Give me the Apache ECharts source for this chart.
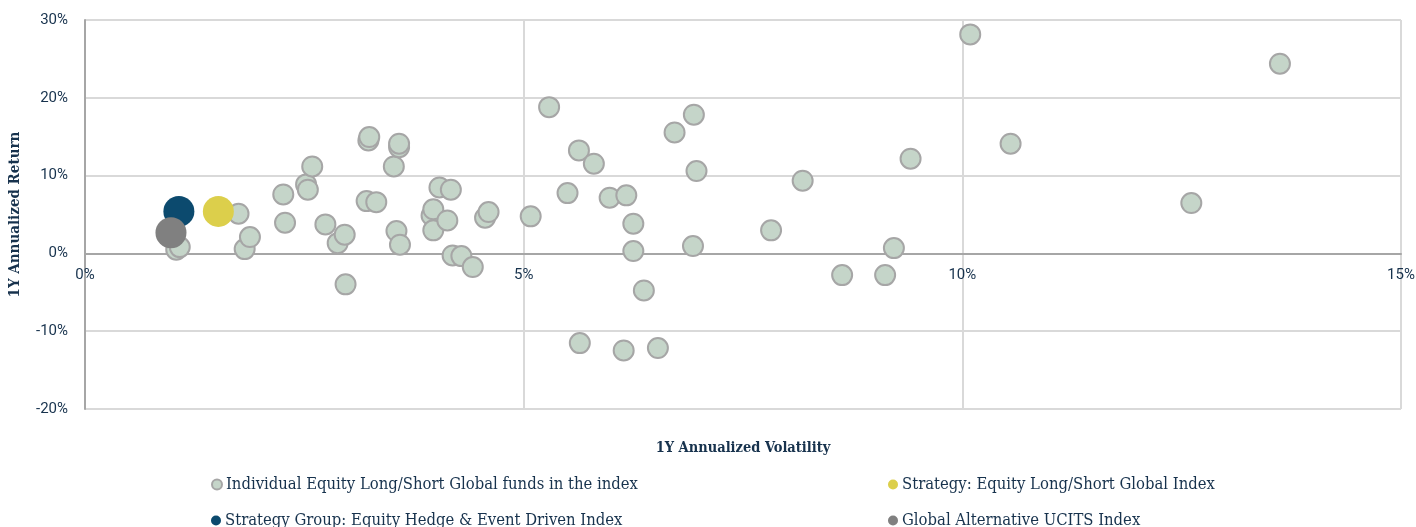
<!DOCTYPE html>
<html>
<head>
<meta charset="utf-8">
<style>
  html, body { margin: 0; padding: 0; background: #ffffff; }
  #chart { width: 1416px; height: 527px; }
</style>
<script src="https://cdn.jsdelivr.net/npm/echarts@6/dist/echarts.min.js"></script>
</head>
<body>
<div id="chart"></div>
<script>
// 1Y annualized volatility (%) of each fund in the index
const fundVolatility = [
  1.04, 1.08, 1.75, 1.82, 1.88, 2.26, 2.28, 2.52, 2.54, 2.59,
  2.74, 2.88, 2.96, 2.97, 3.21, 3.32, 3.23, 3.24, 3.52, 3.55,
  3.58, 3.58, 3.59, 3.95, 3.97, 3.97, 4.04, 4.13, 4.17, 4.19,
  4.29, 4.42, 4.56, 4.60, 5.08, 5.29, 5.50, 5.63, 5.64, 5.80,
  5.98, 6.14, 6.17, 6.25, 6.25, 6.37, 6.53, 6.72, 6.93, 6.94,
  6.97, 7.82, 8.18, 8.63, 9.12, 9.22, 9.41, 10.09, 10.55, 12.61,
  13.62
];
// 1Y annualized return (%) of each fund, same order
const fundReturn = [
  0.48, 0.81, 5.10, 0.55, 2.10, 7.58, 3.95, 8.87, 8.19, 11.18,
  3.73, 1.32, 2.40, -3.98, 6.72, 6.59, 14.52, 14.95, 11.18, 2.87,
  13.66, 14.10, 1.12, 4.88, 5.67, 2.96, 8.48, 4.24, 8.19, -0.26,
  -0.35, -1.76, 4.59, 5.31, 4.76, 18.80, 7.75, 13.24, -11.53, 11.53,
  7.16, -12.47, 7.46, 3.82, 0.30, -4.76, -12.17, 15.55, 0.94, 17.83,
  10.58, 2.96, 9.34, -2.79, -2.79, 0.68, 12.17, 28.15, 14.10, 6.47,
  24.38
];

// Index points: [volatility, return]
const strategyIndex = [1.52, 5.40];
const strategyGroupIndex = [1.07, 5.40];
const ucitsIndex = [0.98, 2.66];

const seriesNames = [
  'Individual Equity Long/Short Global funds in the index',
  'Strategy: Equity Long/Short Global Index',
  'Strategy Group: Equity Hedge & Event Driven Index',
  'Global Alternative UCITS Index'
];

const xTicks = { min: 0, max: 15, interval: 5 };
const yTicks = { min: -20, max: 30, interval: 10 };

const navy = '#17324d';
const slab = '"DejaVu Serif Condensed", "DejaVu Serif", serif';
const sans = 'Roboto, "Noto Sans", sans-serif';

const W = 1416, H = 527;
const grid = { left: 85, right: 15, top: 20, bottom: 118 };
const plotH = H - grid.top - grid.bottom;
// lift the horizontal axis (line + labels) from the bottom edge up to the zero return level
const zeroLift = plotH * (0 - yTicks.min) / (yTicks.max - yTicks.min);

const fundPoints = fundVolatility.map((v, i) => [v, fundReturn[i]]);

// one legend entry per block, laid out as two columns of two rows
function legendEntry(name, left, top) {
  return {
    orient: 'horizontal',
    left: left,
    top: top,
    itemWidth: 10,
    itemHeight: 10,
    itemGap: 0,
    icon: 'circle',
    selectedMode: false,
    textStyle: { color: navy, fontFamily: slab, fontSize: 16.5, padding: [0, 0, 0, -1] },
    data: [name]
  };
}

const chart = echarts.init(document.getElementById('chart'), null, { renderer: 'canvas' });

chart.setOption({
  animation: false,
  backgroundColor: '#ffffff',
  grid: Object.assign({ outerBoundsMode: 'none', containLabel: false }, grid),
  xAxis: {
    type: 'value',
    min: xTicks.min, max: xTicks.max, interval: xTicks.interval,
    offset: -zeroLift,
    axisLine: { show: true, onZero: false, lineStyle: { color: '#a6a6a6', width: 2 } },
    axisTick: { show: false },
    axisLabel: {
      formatter: v => v + '%', color: navy, fontFamily: sans, fontSize: 15, margin: 14
    },
    splitLine: { lineStyle: { color: '#d9d9d9', width: 2 } }
  },
  yAxis: {
    type: 'value',
    min: yTicks.min, max: yTicks.max, interval: yTicks.interval,
    name: '1Y Annualized Return',
    nameLocation: 'middle',
    nameGap: 62,
    nameTextStyle: { color: navy, fontFamily: slab, fontWeight: 'bold', fontSize: 15 },
    axisLine: { show: true, lineStyle: { color: '#a6a6a6', width: 2 } },
    axisTick: { show: false },
    axisLabel: {
      formatter: v => v + '%', color: navy, fontFamily: sans, fontSize: 15, margin: 17
    },
    splitLine: { lineStyle: { color: '#d9d9d9', width: 2 } }
  },
  graphic: [
    {
      type: 'text',
      x: grid.left + (W - grid.left - grid.right) / 2,
      y: 448,
      style: {
        text: '1Y Annualized Volatility',
        fill: navy,
        font: 'bold 14.5px ' + slab,
        align: 'center',
        verticalAlign: 'middle'
      }
    }
  ],
  legend: [
    legendEntry(seriesNames[0], 206, 471),
    legendEntry(seriesNames[1], 883, 471),
    legendEntry(seriesNames[2], 206, 507),
    legendEntry(seriesNames[3], 883, 507)
  ],
  series: [
    {
      name: seriesNames[0],
      type: 'scatter',
      symbolSize: 20,
      itemStyle: { color: '#c5d5c9', borderColor: '#a6a6a6', borderWidth: 2, opacity: 1 },
      data: fundPoints,
      z: 3
    },
    {
      name: seriesNames[1],
      type: 'scatter',
      symbolSize: 31,
      itemStyle: { color: '#dccf4b', opacity: 1 },
      data: [strategyIndex],
      z: 4
    },
    {
      name: seriesNames[2],
      type: 'scatter',
      symbolSize: 31,
      itemStyle: { color: '#0c4a6e', opacity: 1 },
      data: [strategyGroupIndex],
      z: 5
    },
    {
      name: seriesNames[3],
      type: 'scatter',
      symbolSize: 31,
      itemStyle: { color: '#808080', opacity: 1 },
      data: [ucitsIndex],
      z: 6
    }
  ]
});
</script>
</body>
</html>
